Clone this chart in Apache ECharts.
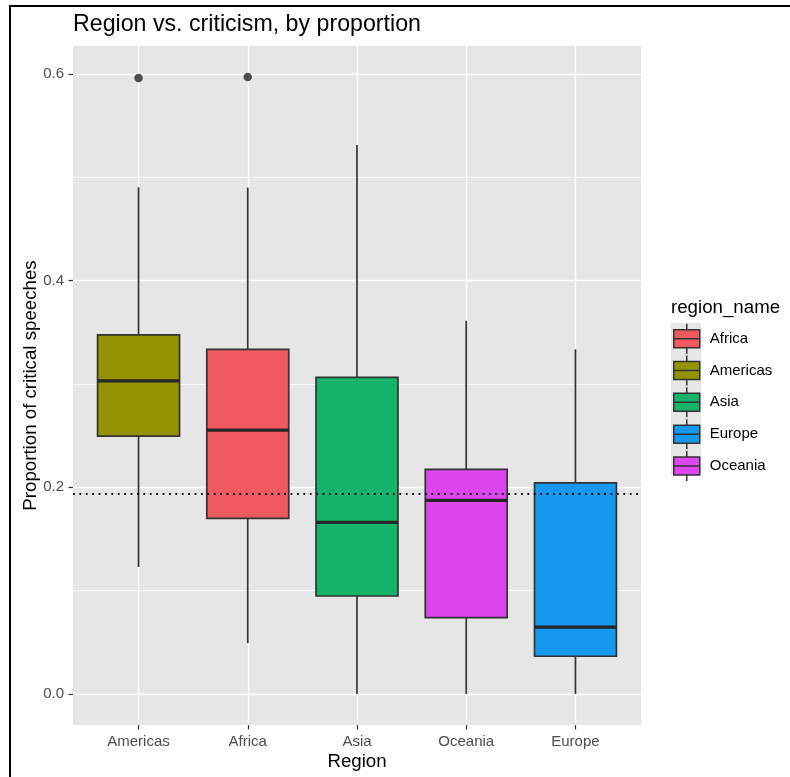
<!DOCTYPE html>
<html>
<head>
<meta charset="utf-8">
<script src="https://cdn.jsdelivr.net/npm/echarts@6/dist/echarts.min.js"></script>
<style>
  html, body { margin: 0; padding: 0; background: #ffffff; }
  #chart { width: 790px; height: 777px; }
</style>
</head>
<body>
<div id="chart"></div>
<script>
// ---- data ----
const categories   = ['Americas', 'Africa', 'Asia', 'Oceania', 'Europe'];
const whiskerLow   = [0.1229, 0.0493, 0.0000, 0.0000, 0.0000];
const quartile1    = [0.2496, 0.1700, 0.0948, 0.0738, 0.0365];
const medians      = [0.3029, 0.2554, 0.1661, 0.1874, 0.0648];
const quartile3    = [0.3474, 0.3335, 0.3064, 0.2174, 0.2042];
const whiskerHigh  = [0.4903, 0.4900, 0.5312, 0.3612, 0.3335];
const outlierRegions = ['Americas', 'Africa'];
const outlierValues  = [0.596, 0.597];
const overallMean  = 0.1935;
const yTicks       = [0, 0.2, 0.4, 0.6];
const yMinorTicks  = [0.1, 0.3, 0.5];
const legendOrder  = ['Africa', 'Americas', 'Asia', 'Europe', 'Oceania'];
const regionColors = {
  Africa:   '#F05A5E',
  Americas: '#939400',
  Asia:     '#15B46A',
  Europe:   '#1598EE',
  Oceania:  '#DC46EE'
};

const FONT = 'Liberation Sans, Arial, Helvetica, sans-serif';
const LINE = '#333333';
const PANEL = '#e6e6e6';

function renderBox(color) {
  return function (params, api) {
    const x = api.value(0);
    const lo = api.coord([x, api.value(1)]);
    const b1 = api.coord([x, api.value(2)]);
    const md = api.coord([x, api.value(3)]);
    const b3 = api.coord([x, api.value(4)]);
    const hi = api.coord([x, api.value(5)]);
    const w = api.size([0.75, 0])[0];
    const cx = lo[0];
    return {
      type: 'group',
      children: [
        { type: 'line', shape: { x1: cx, y1: hi[1], x2: cx, y2: b3[1] }, style: { stroke: LINE, lineWidth: 1.7 } },
        { type: 'line', shape: { x1: cx, y1: b1[1], x2: cx, y2: lo[1] }, style: { stroke: LINE, lineWidth: 1.7 } },
        { type: 'rect', shape: { x: cx - w / 2, y: b3[1], width: w, height: b1[1] - b3[1] },
          style: { fill: color, stroke: LINE, lineWidth: 1.7 } },
        { type: 'line', shape: { x1: cx - w / 2, y1: md[1], x2: cx + w / 2, y2: md[1] },
          style: { stroke: '#262626', lineWidth: 3.2 } }
      ]
    };
  };
}

const series = legendOrder.map(function (name) {
  const i = categories.indexOf(name);
  return {
    name: name,
    type: 'custom',
    renderItem: renderBox(regionColors[name]),
    encode: { x: 0, y: [1, 2, 3, 4, 5] },
    itemStyle: { color: regionColors[name] },
    data: [[i + 1, whiskerLow[i], quartile1[i], medians[i], quartile3[i], whiskerHigh[i]]],
    z: 2
  };
});

series.push({
  name: 'outliers',
  type: 'scatter',
  symbolSize: 8.5,
  itemStyle: { color: '#262626' },
  data: outlierRegions.map(function (r, k) { return [categories.indexOf(r) + 1, outlierValues[k]]; }),
  z: 3,
  markLine: {
    silent: true,
    precision: 6,
    symbol: ['none', 'none'],
    label: { show: false },
    lineStyle: { color: '#000000', width: 1.8, type: [1.8, 4.6] },
    data: [{ yAxis: overallMean }],
    z: 6
  }
});

const legendIcon = 'path://M0,6L26,6L26,24L0,24Z M0,15L26,15 M13,0L13,6 M13,24L13,30';

const option = {
  animation: false,
  backgroundColor: '#ffffff',
  title: [
    {
      text: 'Region vs. criticism, by proportion',
      left: 73, top: 13, padding: 0,
      textStyle: { fontFamily: FONT, fontSize: 23.2, fontWeight: 'normal', color: '#000000' }
    },
    {
      text: 'region_name',
      left: 671, top: 298, padding: 0,
      textStyle: { fontFamily: FONT, fontSize: 18.7, fontWeight: 'normal', color: '#000000' }
    }
  ],
  graphic: [
    { type: 'rect', z: -10, silent: true, shape: { x: 10, y: 6, width: 900, height: 900 },
      style: { fill: 'none', stroke: '#000000', lineWidth: 2 } },
    { type: 'rect', z: -5, silent: true, shape: { x: 671, y: 323, width: 30, height: 152 },
      style: { fill: PANEL } }
  ],
  legend: {
    orient: 'vertical',
    left: 673, top: 323,
    padding: 0,
    itemGap: 0.3,
    itemWidth: 26, itemHeight: 30,
    selectedMode: false,
    textStyle: { fontFamily: FONT, fontSize: 15, color: '#000000', padding: [0, 0, 0, 5] },
    data: legendOrder.map(function (name) {
      return { name: name, icon: legendIcon,
        itemStyle: { color: regionColors[name], borderColor: LINE, borderWidth: 1.5 } };
    })
  },
  grid: {
    left: 73, right: 149, top: 46, bottom: 52,
    containLabel: false, outerBoundsMode: 'none',
    show: true, backgroundColor: PANEL, borderWidth: 0
  },
  xAxis: {
    type: 'value', min: 0.4, max: 5.6,
    name: 'Region', nameLocation: 'middle', nameGap: 27, nameMoveOverlap: false,
    nameTextStyle: { fontFamily: FONT, fontSize: 18.7, color: '#000000' },
    axisLine: { show: false, onZero: false },
    axisTick: { show: true, length: 4.5, lineStyle: { color: LINE, width: 1.2 }, customValues: [1, 2, 3, 4, 5] },
    axisLabel: {
      customValues: [1, 2, 3, 4, 5], margin: 9,
      fontFamily: FONT, fontSize: 15, color: '#4d4d4d',
      formatter: function (v) { return categories[Math.round(v) - 1] || ''; }
    },
    splitLine: { show: true, lineStyle: { color: '#ffffff', width: 1.4 } }
  },
  yAxis: [
    {
      type: 'value', min: -0.03, max: 0.627,
      name: 'Proportion of critical speeches', nameLocation: 'middle', nameGap: 33, nameMoveOverlap: false,
      nameTextStyle: { fontFamily: FONT, fontSize: 18.7, color: '#000000' },
      axisLine: { show: false, onZero: false },
      axisTick: { show: true, length: 4.5, lineStyle: { color: LINE, width: 1.2 }, customValues: yTicks },
      axisLabel: {
        customValues: yTicks, margin: 9,
        fontFamily: FONT, fontSize: 15, color: '#4d4d4d',
        formatter: function (v) { return v.toFixed(1); }
      },
      splitLine: { show: true, lineStyle: { color: '#ffffff', width: 1.4 } }
    },
    {
      type: 'value', min: -0.03, max: 0.627, position: 'left',
      axisLine: { show: false, onZero: false },
      axisTick: { show: false, customValues: yMinorTicks },
      axisLabel: { show: false, customValues: yMinorTicks },
      splitLine: { show: true, lineStyle: { color: '#ffffff', width: 0.7 } }
    }
  ],
  series: series
};

const chart = echarts.init(document.getElementById('chart'), null, { renderer: 'canvas' });
chart.setOption(option);
</script>
</body>
</html>
